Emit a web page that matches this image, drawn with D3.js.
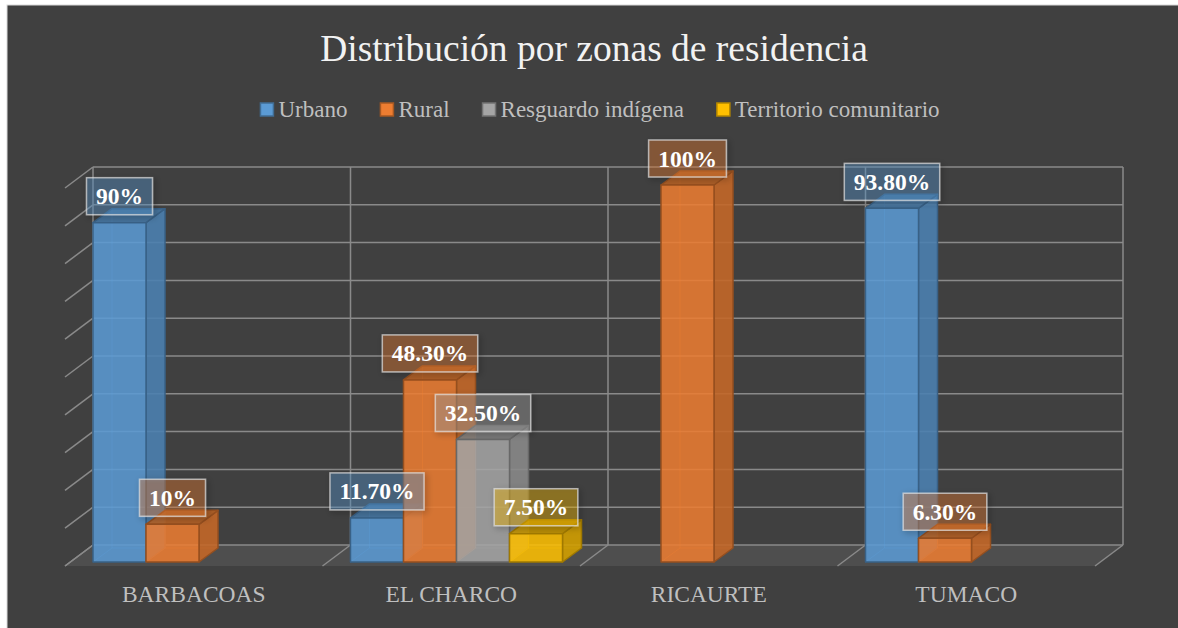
<!DOCTYPE html>
<html>
<head>
<meta charset="utf-8">
<script src="https://cdn.jsdelivr.net/npm/d3@7"></script>
<style>
  body { margin: 0; background: #fff; }
  svg { display: block; }
</style>
</head>
<body>
<svg id="chart" width="1178" height="628"></svg>
<script>
// data
const categories = ['BARBACOAS', 'EL CHARCO', 'RICAURTE', 'TUMACO']
const seriesNames = ['Urbano', 'Rural', 'Resguardo indígena', 'Territorio comunitario']
const urbano = [90, 11.7, 0, 93.8]
const rural = [10, 48.3, 100, 6.3]
const resguardo = [0, 32.5, 0, 0]
const territorio = [0, 7.5, 0, 0]
const yTicks = [0, 10, 20, 30, 40, 50, 60, 70, 80, 90, 100]

const seriesValues = [urbano, rural, resguardo, territorio]
const seriesColors = ['#5B9BD5', '#ED7D31', '#A5A5A5', '#FFC000']

const font = '"Liberation Serif", "Times New Roman", serif'
const svg = d3.select('#chart')

//chart area background
svg.append('rect')
    .attr('x', 7).attr('y', 5)
    .attr('width', 1178).attr('height', 628)
    .attr('fill', '#404040')
    .attr('stroke', '#d9d9d9')
    .attr('stroke-width', 1)

const defs = svg.append('defs')
defs.append('filter')
    .attr('id', 'shadow')
    .attr('x', '-30%').attr('y', '-30%').attr('width', '160%').attr('height', '160%')
    .append('feDropShadow')
    .attr('dx', 2).attr('dy', 2)
    .attr('stdDeviation', 3)
    .attr('flood-color', '#000')
    .attr('flood-opacity', 0.45)

//3d geometry
const wallLeft = 93, wallRight = 1123
const floorDx = -28, floorDy = 21
const barDx = 19, barDy = -14

const xCat = d3.scaleBand().domain(categories).range([wallLeft, wallRight])
const xSer = d3.scaleBand().domain(seriesNames).range([0, 212])
const yWall = d3.scaleLinear().domain([0, 100]).range([545, 167])
const yBar = d3.scaleLinear().domain([0, 100]).range([562, 185])

const gridColor = '#8a8a8a'

//floor
const floorY = yWall(0)
svg.append('path')
    .attr('d', `M${wallLeft},${floorY}L${wallRight},${floorY}L${wallRight + floorDx},${floorY + floorDy}L${wallLeft + floorDx},${floorY + floorDy}Z`)
    .attr('fill', '#4e4e4e')

//horizontal gridlines on back wall + side wall diagonals
const grid = svg.append('g')
grid.selectAll('.hgrid')
    .data(yTicks)
    .enter().append('line')
    .attr('x1', wallLeft).attr('x2', wallRight)
    .attr('y1', d => yWall(d)).attr('y2', d => yWall(d))
    .attr('stroke', gridColor).attr('stroke-width', 1.5)

grid.selectAll('.sgrid')
    .data(yTicks)
    .enter().append('line')
    .attr('x1', wallLeft).attr('x2', wallLeft + floorDx)
    .attr('y1', d => yWall(d)).attr('y2', d => yWall(d) + floorDy)
    .attr('stroke', gridColor).attr('stroke-width', 1.5)

//vertical gridlines at category boundaries
const bounds = categories.map(c => xCat(c)).concat([wallRight])
grid.selectAll('.vgrid')
    .data(bounds)
    .enter().append('line')
    .attr('x1', d => d).attr('x2', d => d)
    .attr('y1', yWall(100)).attr('y2', yWall(0))
    .attr('stroke', gridColor).attr('stroke-width', 1.5)

grid.selectAll('.fgrid')
    .data(bounds)
    .enter().append('line')
    .attr('x1', d => d).attr('x2', d => d + floorDx)
    .attr('y1', yWall(0)).attr('y2', yWall(0) + floorDy)
    .attr('stroke', gridColor).attr('stroke-width', 1.5)

//bars
const bars = []
categories.forEach((c, ci) => {
    seriesNames.forEach((s, si) => {
        const v = seriesValues[si][ci]
        if (v > 0) bars.push({ cat: c, ser: s, si: si, value: v })
    })
})

const barG = svg.append('g')
bars.forEach(d => {
    const col = d3.color(seriesColors[d.si])
    const edge = col.darker(1.3).formatHex()
    const x0 = xCat(d.cat) + xSer(d.ser)
    const x1 = x0 + xSer.bandwidth()
    const y0 = yBar(0)
    const y1 = yBar(d.value)
    const g = barG.append('g').attr('stroke-linejoin', 'round')

    //hidden edges seen through the transparent faces
    g.append('path')
        .attr('d', `M${x0 + barDx},${y1 + barDy}L${x0 + barDx},${y0 + barDy}L${x1 + barDx},${y0 + barDy}M${x0},${y0}L${x0 + barDx},${y0 + barDy}`)
        .attr('fill', 'none')
        .attr('stroke', col.brighter(0.3).formatHex())
        .attr('stroke-opacity', 0.35)
        .attr('stroke-width', 1)

    //side face
    g.append('path')
        .attr('d', `M${x1},${y0}L${x1 + barDx},${y0 + barDy}L${x1 + barDx},${y1 + barDy}L${x1},${y1}Z`)
        .attr('fill', col.darker(0.55).formatHex())
        .attr('fill-opacity', 0.9)
        .attr('stroke', edge).attr('stroke-width', 1.5)

    //top face
    g.append('path')
        .attr('d', `M${x0},${y1}L${x0 + barDx},${y1 + barDy}L${x1 + barDx},${y1 + barDy}L${x1},${y1}Z`)
        .attr('fill', col.darker(0.75).formatHex())
        .attr('fill-opacity', 0.9)
        .attr('stroke', edge).attr('stroke-width', 1.5)

    //front face
    g.append('rect')
        .attr('x', x0).attr('y', y1)
        .attr('width', x1 - x0).attr('height', y0 - y1)
        .attr('fill', col.formatHex())
        .attr('fill-opacity', 0.86)
        .attr('stroke', edge).attr('stroke-width', 1.5)
})

//data labels
const fmt = v => Number.isInteger(v) ? `${v}%` : `${v.toFixed(2)}%`
const labelG = svg.append('g')
bars.forEach(d => {
    const cx = xCat(d.cat) + xSer(d.ser) + xSer.bandwidth() / 2
    const bottom = yBar(d.value) - 8
    const g = labelG.append('g')
    const box = g.append('rect')
    const txt = g.append('text')
        .attr('x', cx)
        .attr('y', bottom - 18.5 + 8)
        .attr('text-anchor', 'middle')
        .attr('font-family', font)
        .attr('font-weight', 'bold')
        .attr('font-size', '23.5px')
        .attr('fill', '#ffffff')
        .text(fmt(d.value))
    const w = txt.node().getComputedTextLength() + 19
    box.attr('x', cx - w / 2).attr('y', bottom - 37)
        .attr('width', w).attr('height', 37)
        .attr('fill', seriesColors[d.si])
        .attr('fill-opacity', 0.35)
        .attr('stroke', '#e0e0e0')
        .attr('stroke-opacity', 0.7)
        .attr('stroke-width', 1.5)
        .attr('filter', 'url(#shadow)')
})

//category labels
svg.selectAll('.cat')
    .data(categories)
    .enter().append('text')
    .attr('x', d => xCat(d) + xCat.bandwidth() / 2 + floorDx)
    .attr('y', 602)
    .attr('text-anchor', 'middle')
    .attr('font-family', font)
    .attr('font-size', '23.5px')
    .attr('fill', '#bfbfbf')
    .text(d => d)

//title
svg.append('text')
    .attr('x', 594)
    .attr('y', 61)
    .attr('text-anchor', 'middle')
    .attr('font-family', font)
    .attr('font-size', '37.5px')
    .attr('fill', '#f2f2f2')
    .text('Distribución por zonas de residencia')

//legend
const legend = svg.append('g')
const items = seriesNames.map((s, i) => {
    const g = legend.append('g')
    g.append('rect')
        .attr('x', 0).attr('y', 103)
        .attr('width', 13).attr('height', 13)
        .attr('fill', seriesColors[i])
        .attr('stroke', d3.color(seriesColors[i]).darker(1).formatHex())
        .attr('stroke-width', 1.5)
    const t = g.append('text')
        .attr('x', 18).attr('y', 117)
        .attr('font-family', font)
        .attr('font-size', '23px')
        .attr('fill', '#bfbfbf')
        .text(s)
    return { g: g, w: 18 + t.node().getComputedTextLength() }
})
const gap = 33
const totalW = d3.sum(items, d => d.w) + gap * (items.length - 1)
let lx = 600 - totalW / 2
items.forEach(it => {
    it.g.attr('transform', `translate(${lx},0)`)
    lx += it.w + gap
})
</script>
</body>
</html>
